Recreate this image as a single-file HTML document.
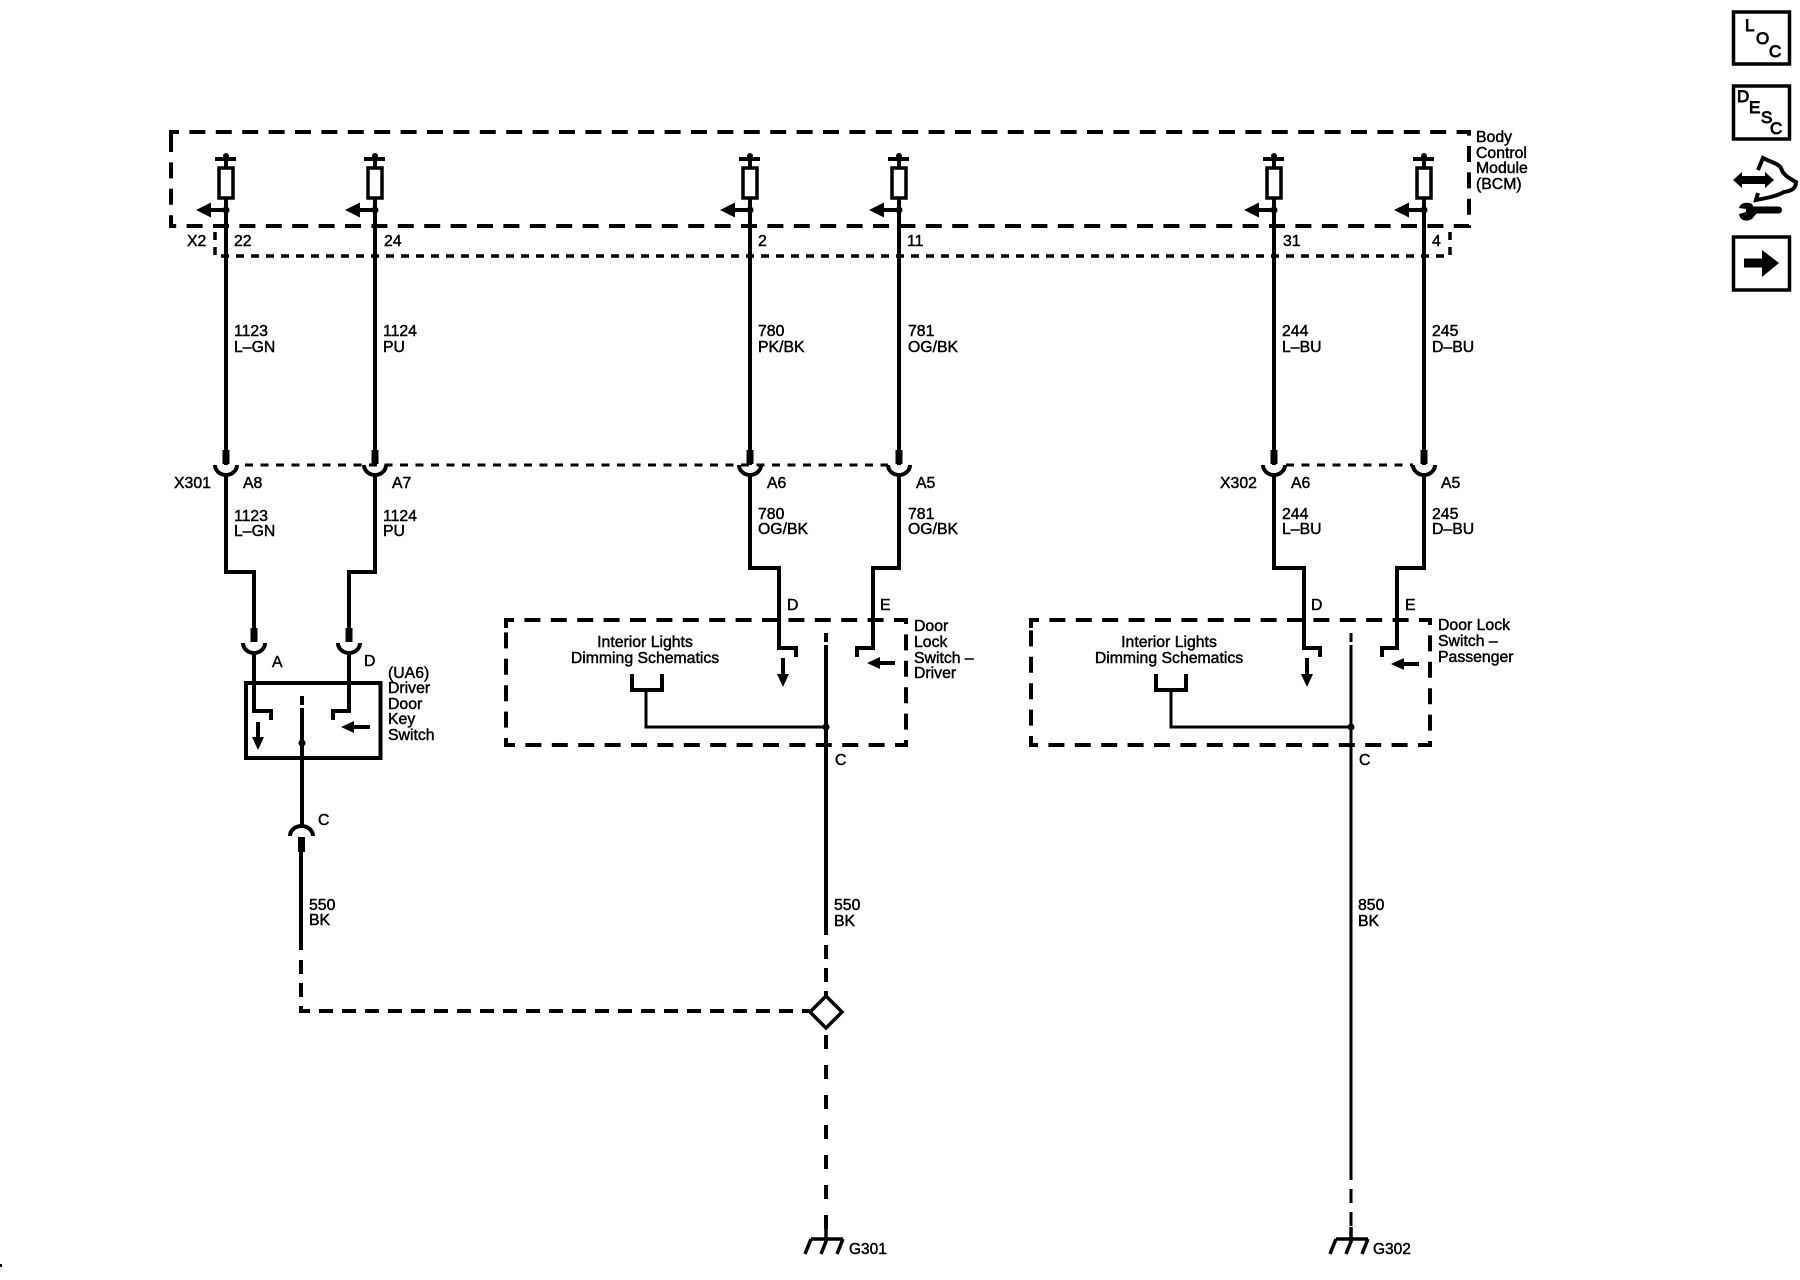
<!DOCTYPE html>
<html><head><meta charset="utf-8"><style>
html,body{margin:0;padding:0;background:#fff}
svg{display:block}
text{font-family:"Liberation Sans",sans-serif;font-size:15.8px;fill:#000;stroke:#000;stroke-width:.45}
.t{fill:none;stroke:#000;stroke-width:4;stroke-linejoin:miter}
.w3{fill:none;stroke:#000;stroke-width:3}
.d{fill:none;stroke:#000;stroke-width:4;stroke-dasharray:16 10.4}
.s{fill:none;stroke:#000;stroke-width:3.5;stroke-dasharray:8 7}
.x{fill:none;stroke:#000;stroke-width:3;stroke-dasharray:8 7.5}
.i{font-size:17px;stroke-width:.9}
</style></head><body>
<svg width="1800" height="1280" viewBox="0 0 1800 1280" xmlns="http://www.w3.org/2000/svg">
<rect width="1800" height="1280" fill="#fff"/>
<defs>
<g id="fuse">
<path class="t" d="M-11,159H10"/><circle cx="0" cy="156" r="3" fill="#000"/>
<path class="t" d="M0,159V168M0,198V465"/>
<rect x="-7" y="168" width="14" height="30" fill="#fff" stroke="#000" stroke-width="3.5"/>
<circle cx="0" cy="210" r="3.5" fill="#000"/>
<path class="t" d="M0,210H-18"/><polygon points="-30,210 -15,202.5 -15,217.5" fill="#000"/>
<rect x="-3.5" y="450" width="7" height="14" fill="#000"/>
<path class="t" d="M-11,465A11,10 0 0 0 11,465M0,475V480"/>
</g>
<g id="cupd">
<rect x="-3.5" y="628" width="7" height="14" fill="#000"/>
<path class="t" d="M-11,643A11,10 0 0 0 11,643"/>
</g>
<polygon id="ad" points="0,0 -6,-13 6,-13" fill="#000"/>
<polygon id="al" points="0,0 13,-6 13,6" fill="#000"/>
<g id="gnd">
<path class="t" d="M0,-12V0M-15,0H17" style="stroke-width:3.5"/>
<path class="t" d="M-15,0L-21,15M1,0L-5,15M17,0L11,15" style="stroke-width:3.5"/>
</g>
</defs>

<!-- BCM -->
<path class="d" d="M171,140V132H1469V226H171V132"/>
<path class="s" d="M215,232V256H1450V232"/>
<use href="#fuse" x="226"/><use href="#fuse" x="375"/><use href="#fuse" x="750"/><use href="#fuse" x="899"/><use href="#fuse" x="1274"/><use href="#fuse" x="1424"/>

<path class="x" d="M245,465H888"/>
<path class="x" d="M1286,465H1413"/>

<!-- Driver key switch -->
<path class="t" d="M226,475V572H254V628"/>
<path class="t" d="M375,475V572H349V628"/>
<use href="#cupd" x="254"/><use href="#cupd" x="349"/>
<rect x="246" y="683" width="134.500" height="75" fill="none" stroke="#000" stroke-width="4"/>
<path class="t" d="M254,653V711H271V720"/>
<path class="t" d="M349,653V711H333V720"/>
<path class="t" d="M258,722V738"/><use href="#ad" x="258" y="750"/>
<path class="t" d="M370,727H352"/><use href="#al" x="341" y="727"/>
<path class="t" d="M302,696V705M302,708V826"/>
<circle cx="302" cy="743" r="3.500" fill="#000"/>
<path class="t" d="M290,836A11.500,10 0 0 1 313,836"/>
<rect x="298" y="837" width="7" height="15" fill="#000"/>
<path class="t" d="M301,850V950"/>
<path class="d" d="M301,960V1011H810" style="stroke-dasharray:14 9"/>

<!-- Door lock driver -->
<path class="d" d="M506,628V620H906V745H506V620"/>
<path class="t" d="M750,475V568H779V648H796V657"/>
<path class="t" d="M899,475V568H873V648H857V657"/>
<path class="t" d="M783,658V676"/><use href="#ad" x="783" y="687"/>
<path class="t" d="M895,663H878"/><use href="#al" x="867" y="663"/>
<path class="t" d="M826,633V642M826,645V935"/>
<path class="t" d="M826,945V996" style="stroke-dasharray:14 9"/>
<circle cx="826" cy="727" r="3.500" fill="#000"/>
<path class="w3" d="M826,727H646V690"/><path class="t" d="M632,674V690H662V674"/>
<polygon points="826,996 842,1012 826,1028 810,1012" fill="#fff" stroke="#000" stroke-width="3.500"/>
<path class="t" d="M826,1028V1236" style="stroke-dasharray:0 7 14 9"/>
<use href="#gnd" x="826" y="1239"/>

<!-- Door lock passenger -->
<path class="d" d="M1031,628V620H1430V745H1031V620"/>
<path class="t" d="M1274,475V568H1304V648H1320V657"/>
<path class="t" d="M1424,475V568H1397V648H1382V657"/>
<path class="t" d="M1307,658V676"/><use href="#ad" x="1307" y="687"/>
<path class="t" d="M1419,664H1402"/><use href="#al" x="1391" y="664"/>
<path class="w3" d="M1351,633V642M1351,645V1180"/>
<path class="w3" d="M1351,1189V1240" style="stroke-dasharray:14 9"/>
<circle cx="1351" cy="727" r="3.500" fill="#000"/>
<path class="w3" d="M1351,727H1171V690"/>
<path class="t" d="M1156,674V690H1186V674"/>
<use href="#gnd" x="1351" y="1239"/>

<!-- labels -->
<text x="187" y="246">X2</text><text x="234" y="246">22</text><text x="384" y="246">24</text><text x="758" y="246">2</text><text x="907" y="246">11</text><text x="1283" y="246">31</text><text x="1432" y="246">4</text>

<text x="234" y="336">1123</text><text x="234" y="352">L–GN</text>
<text x="383" y="336">1124</text><text x="383" y="352">PU</text>
<text x="758" y="336">780</text><text x="758" y="352">PK/BK</text>
<text x="908" y="336">781</text><text x="908" y="352">OG/BK</text>
<text x="1282" y="336">244</text><text x="1282" y="352">L–BU</text>
<text x="1432" y="336">245</text><text x="1432" y="352">D–BU</text>

<text x="174" y="488">X301</text><text x="243" y="488">A8</text><text x="392" y="488">A7</text><text x="767" y="488">A6</text><text x="916" y="488">A5</text>
<text x="1220" y="488">X302</text><text x="1291" y="488">A6</text><text x="1441" y="488">A5</text>

<text x="234" y="521">1123</text><text x="234" y="536">L–GN</text>
<text x="383" y="521">1124</text><text x="383" y="536">PU</text>
<text x="758" y="519">780</text><text x="758" y="534">OG/BK</text>
<text x="908" y="519">781</text><text x="908" y="534">OG/BK</text>
<text x="1282" y="519">244</text><text x="1282" y="534">L–BU</text>
<text x="1432" y="519">245</text><text x="1432" y="534">D–BU</text>

<text x="272" y="667">A</text><text x="364" y="666">D</text>
<text x="388" y="678">(UA6)</text><text x="388" y="693">Driver</text><text x="388" y="709">Door</text><text x="388" y="724">Key</text><text x="388" y="740">Switch</text>

<text x="787" y="610">D</text><text x="880" y="610">E</text>
<text x="914" y="631">Door</text><text x="914" y="647">Lock</text><text x="914" y="663">Switch –</text><text x="914" y="678">Driver</text>
<text x="645" y="647" text-anchor="middle">Interior Lights</text><text x="645" y="663" text-anchor="middle">Dimming Schematics</text>
<text x="835" y="765">C</text>

<text x="1311" y="610">D</text><text x="1405" y="610">E</text>
<text x="1438" y="630">Door Lock</text><text x="1438" y="646">Switch –</text><text x="1438" y="662">Passenger</text>
<text x="1169" y="647" text-anchor="middle">Interior Lights</text><text x="1169" y="663" text-anchor="middle">Dimming Schematics</text>
<text x="1359" y="765">C</text>

<text x="318" y="825">C</text>
<text x="309" y="910">550</text><text x="309" y="925">BK</text>
<text x="834" y="910">550</text><text x="834" y="926">BK</text>
<text x="1358" y="910">850</text><text x="1358" y="926">BK</text>
<text x="849" y="1254" style="font-size:15.5px">G301</text>
<text x="1373" y="1254" style="font-size:15.5px">G302</text>

<text x="1476" y="142">Body</text><text x="1476" y="158">Control</text><text x="1476" y="173">Module</text><text x="1476" y="189">(BCM)</text>

<!-- icons -->
<rect x="1733.500" y="12" width="56" height="52" fill="none" stroke="#000" stroke-width="3.500"/>
<text class="i" x="1745" y="31">L</text><text class="i" x="1756" y="44">O</text><text class="i" x="1769" y="57">C</text>
<rect x="1733.500" y="86" width="56" height="53" fill="none" stroke="#000" stroke-width="3.500"/>
<text class="i" x="1737" y="102">D</text><text class="i" x="1749" y="113">E</text><text class="i" x="1761" y="123">S</text><text class="i" x="1770" y="134">C</text>
<path d="M1733,180L1742,172V176H1765V172L1774,180L1765,188V184H1742V188Z" fill="#000"/>
<path d="M1758,170L1763,158C1770,162 1778,163 1781,168C1783,175 1789,178 1796,182C1796,188 1792,191 1784,192C1777,196 1767,198 1756,200L1758,193" fill="none" stroke="#000" stroke-width="4"/>
<rect x="1748" y="206.500" width="34" height="7" rx="3.500" fill="#000"/>
<path d="M1752,204C1745,201 1740,204 1739,208L1746,209L1746,212L1739,214C1740,221 1747,222 1752,219L1757,213Z" fill="#000"/>
<rect x="1733.500" y="237" width="56" height="53" fill="none" stroke="#000" stroke-width="3.500"/>
<polygon points="1744,258.500 1762,258.500 1762,250 1779,263 1762,277 1762,267.500 1744,267.500" fill="#000"/>
<rect x="0" y="1264" width="2" height="3" fill="#000"/>
</svg>
</body></html>
